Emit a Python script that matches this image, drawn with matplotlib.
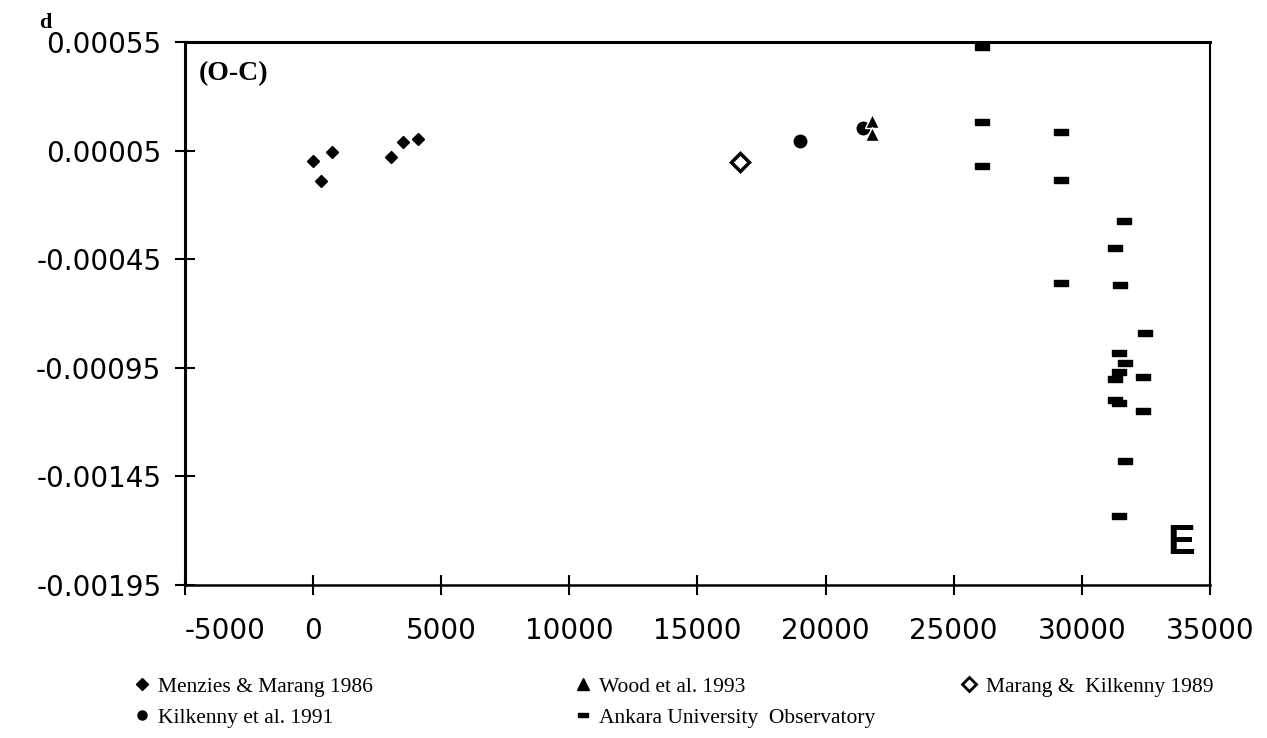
import matplotlib
matplotlib.use("Agg")
from matplotlib import pyplot as plt
from matplotlib.lines import Line2D

# epochs E and (O-C) residuals in days, by source
menzies_e = [0, 300, 750, 3050, 3500, 4100]
menzies_oc = [0.000002, -0.00009, 0.000045, 0.00002, 0.000088, 0.000103]

kilkenny_e = [19000, 21450]
kilkenny_oc = [0.000096, 0.000153]

wood_e = [21820, 21820]
wood_oc = [0.000188, 0.000125]

marang_e = [16650]
marang_oc = [0.0]

ankara_e = [26100, 26100, 26100, 29200, 29200, 29200,
            31650, 31300, 31500, 32480, 31450, 31680, 31450,
            31300, 32380, 31300, 31450, 32380, 31700, 31460]
ankara_oc = [0.000525, 0.00018, -0.00002, 0.000135, -0.000085, -0.00056,
             -0.000275, -0.0004, -0.00057, -0.00079, -0.00088, -0.00093, -0.00097,
             -0.001, -0.00099, -0.0011, -0.00111, -0.00115, -0.00138, -0.00163]

xticks = [-5000, 0, 5000, 10000, 15000, 20000, 25000, 30000, 35000]
yticks = [-0.00195, -0.00145, -0.00095, -0.00045, 0.00005, 0.00055]

serif = "Liberation Serif"

fig = plt.figure(figsize=(12.67, 7.38), dpi=100)
ax = fig.add_axes([0.146, 0.2073, 0.809, 0.7357])

# horizontal dash marker for the Ankara timings
dash = [(-1, -0.45), (1, -0.45), (1, 0.45), (-1, 0.45), (-1, -0.45)]

ax.plot(menzies_e, menzies_oc, ls="none", marker="D", ms=6, color="black")
ax.plot(kilkenny_e, kilkenny_oc, ls="none", marker="o", ms=9, color="black")
ax.plot(wood_e, wood_oc, ls="none", marker="^", ms=9.5, color="black",
        markeredgecolor="white", markeredgewidth=1.0)
ax.plot(marang_e, marang_oc, ls="none", marker="D", ms=9, mfc="white",
        mec="black", mew=2.5)
ax.plot(ankara_e, ankara_oc, ls="none", marker=dash, ms=9.5, color="black")

ax.set_xlim(-5000, 35000)
ax.set_ylim(-0.00195, 0.00055)
ax.set_xticks(xticks)
ax.set_xticklabels([str(v) for v in xticks])
ax.set_yticks(yticks)
ax.set_yticklabels(["%.5f" % v for v in yticks])

ax.tick_params(direction="inout", length=14, width=1.5, labelsize=20)
ax.tick_params(axis="x", pad=16)
ax.tick_params(axis="y", pad=10)
ax.get_xticklabels()[0].set_horizontalalignment("left")

for side, lw in [("left", 2.2), ("top", 2.2), ("bottom", 1.8), ("right", 1.5)]:
    ax.spines[side].set_linewidth(lw)

ax.text(0.013, 0.965, "(O-C)", transform=ax.transAxes, ha="left", va="top",
        fontsize=20, fontweight="bold", family=serif)
ax.text(0.972, 0.077, "E", transform=ax.transAxes, ha="center", va="center",
        fontsize=30, fontweight="bold", family="Liberation Sans")
fig.text(0.036, 0.983, "d", ha="center", va="top", fontsize=16,
         fontweight="bold", family=serif)

# smaller key symbols for the legend
k_men = Line2D([], [], ls="none", marker="D", ms=6.5, color="black")
k_kil = Line2D([], [], ls="none", marker="o", ms=6.5, color="black")
k_wood = Line2D([], [], ls="none", marker="^", ms=8.5, color="black")
k_mar = Line2D([], [], ls="none", marker="D", ms=7.5, mfc="white", mec="black", mew=2)
k_ank = Line2D([], [], ls="none", marker=dash, ms=7, color="black")

# legend split into three blocks under the axis
leg_kw = dict(frameon=False, handlelength=0.6, handletextpad=0.45,
              labelspacing=0.5, borderpad=0, borderaxespad=0,
              prop={"family": serif, "size": 15.5}, loc="upper left")
fig.legend([k_men, k_kil], ["Menzies & Marang 1986", "Kilkenny et al. 1991"],
           bbox_to_anchor=(0.107, 0.083), **leg_kw)
fig.legend([k_wood, k_ank], ["Wood et al. 1993", "Ankara University  Observatory"],
           bbox_to_anchor=(0.455, 0.083), **leg_kw)
fig.legend([k_mar], ["Marang &  Kilkenny 1989"],
           bbox_to_anchor=(0.760, 0.083), **leg_kw)

fig.savefig("out.png", dpi=100)
